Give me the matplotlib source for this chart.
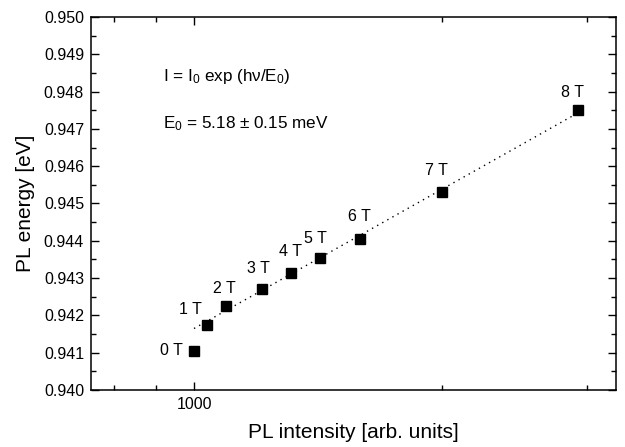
import numpy as np
import matplotlib.pyplot as plt
from matplotlib.ticker import FixedLocator, NullFormatter, MultipleLocator, FormatStrFormatter

plt.rcParams['font.family'] = ['Liberation Sans', 'DejaVu Sans']
plt.rcParams['mathtext.fontset'] = 'custom'
plt.rcParams['mathtext.rm'] = 'Liberation Sans'
plt.rcParams['mathtext.it'] = 'Liberation Sans'
plt.rcParams['mathtext.default'] = 'regular'

# data
field_labels = ["0 T", "1 T", "2 T", "3 T", "4 T", "5 T", "6 T", "7 T", "8 T"]
intensity = [1000, 1037, 1093, 1208, 1310, 1420, 1592, 2000, 2922]
energy = [0.94105, 0.94175, 0.94225, 0.94270, 0.94315, 0.94355, 0.94405, 0.94530, 0.94750]

# label offsets in points (styling only)
label_offsets = [(-16, 0), (-12, 11), (-1, 13), (-2, 15), (0, 15), (-3, 14), (-1, 16), (-4, 16), (-4, 13)]

fig = plt.figure(figsize=(6.25, 4.47), dpi=100)
ax = fig.add_axes([0.1456, 0.1275, 0.84, 0.8345])

I = np.array(intensity)
E = np.array(energy)

# exponential fit on the 1 T .. 8 T points: E linear in ln(I)
p = np.polyfit(np.log(I[1:]), E[1:], 1)
x_fit = np.array([I[0], I[-1]])
ax.plot(x_fit, np.polyval(p, np.log(x_fit)), color='black', lw=1.0,
        linestyle=(0, (1, 3.2)))

ax.plot(I, E, linestyle='none', marker='s', ms=6.5, color='black')

for xi, yi, lab, off in zip(I, E, field_labels, label_offsets):
    ax.annotate(lab, (xi, yi), xytext=off, textcoords='offset points',
                ha='center', va='center', fontsize=11.5)

ax.text(0.137, 0.84, r"I = I$_0$ exp (h$\nu$/E$_0$)", transform=ax.transAxes,
        fontsize=12.3, va='center')
ax.text(0.137, 0.715, r"E$_0$ = 5.18 $\pm$ 0.15 meV", transform=ax.transAxes,
        fontsize=12.3, va='center')

ax.set_xscale('log')
ax.set_xlim(750, 3250)
ax.set_ylim(0.940, 0.950)

ax.xaxis.set_major_locator(FixedLocator([1000]))
ax.xaxis.set_minor_locator(FixedLocator([800, 900, 2000, 3000]))
ax.xaxis.set_major_formatter(FormatStrFormatter('%d'))
ax.xaxis.set_minor_formatter(NullFormatter())
ax.yaxis.set_major_locator(MultipleLocator(0.001))
ax.yaxis.set_minor_locator(MultipleLocator(0.0005))
ax.yaxis.set_major_formatter(FormatStrFormatter('%.3f'))

ax.tick_params(which='both', direction='in', top=True, right=True, labelsize=11.5, width=1.0)
ax.tick_params(which='major', length=6, pad=5)
ax.tick_params(which='minor', length=3.5)
for s in ax.spines.values():
    s.set_linewidth(1.1)

ax.set_xlabel("PL intensity [arb. units]", fontsize=15, labelpad=8)
ax.set_ylabel("PL energy [eV]", fontsize=15, labelpad=6)

fig.savefig("out.png", dpi=100)
